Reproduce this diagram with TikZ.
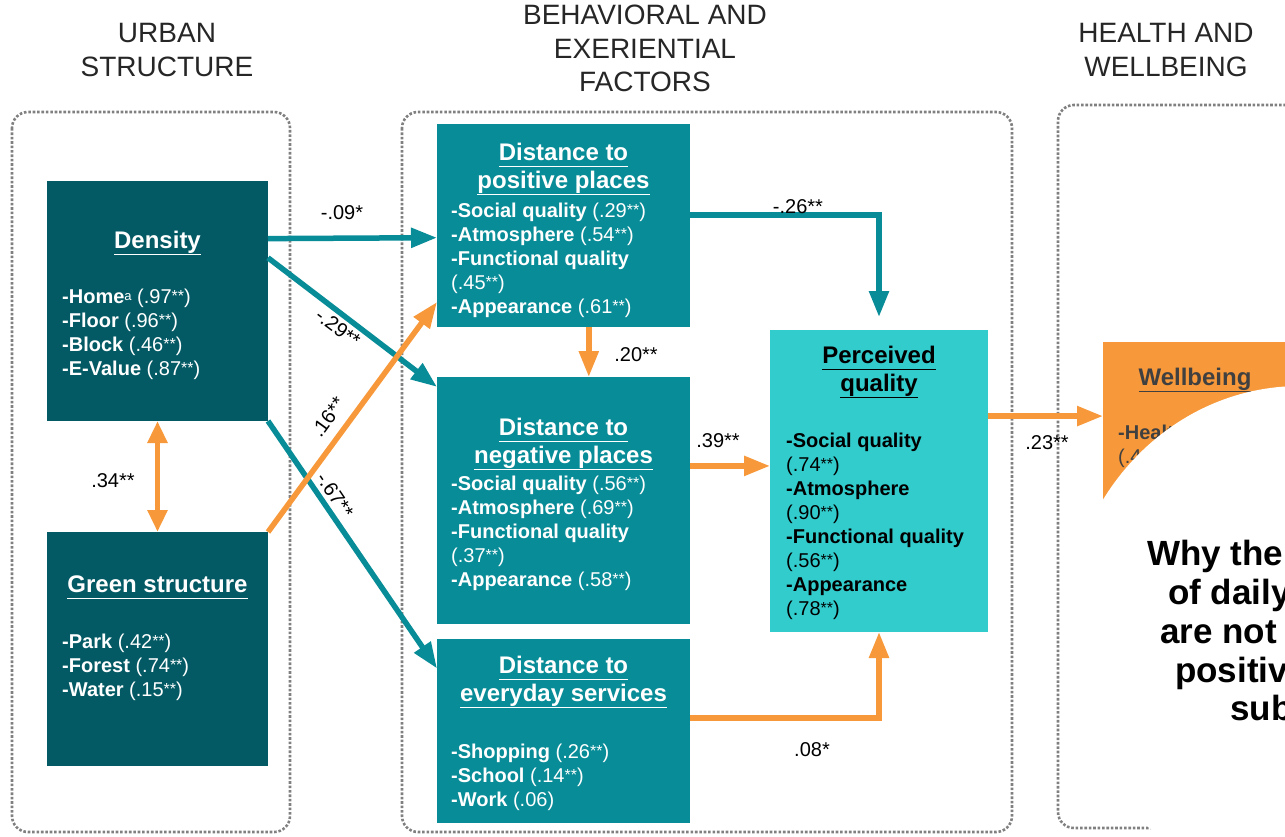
\documentclass[tikz,border=0pt]{standalone}
\usepackage{fontspec}
\setmainfont{Liberation Sans}
\usetikzlibrary{arrows.meta,calc}
\definecolor{dteal}{HTML}{045A64}
\definecolor{mteal}{HTML}{088C97}
\definecolor{lteal}{HTML}{33CCCC}
\definecolor{orng}{HTML}{F7993A}
\definecolor{grp}{HTML}{808080}
\definecolor{wbtext}{HTML}{404040}
\newcommand{\st}[1]{\raisebox{2pt}{\fontsize{16}{16}\selectfont #1}}
\newcommand{\myul}[1]{\leavevmode\vtop{\hbox{\vphantom{p}#1}\kern0.8pt\hrule height1.6pt}}
\begin{document}
\begin{tikzpicture}[x=1pt,y=-1pt,
  bx/.style={rectangle,inner sep=0pt,outer sep=0pt},
  grpbox/.style={draw=grp,line width=2.6pt,dash pattern=on 2.6pt off 1.8pt,rounded corners=16pt},
  tarr/.style={draw=mteal,line width=5.5pt,-{Triangle[length=26pt,width=19pt]}},
  oarr/.style={draw=orng,line width=5.5pt,-{Triangle[length=26pt,width=19pt]}},
  lbl/.style={font=\fontsize{20}{20}\selectfont,inner sep=0pt},
  hdr/.style={font=\fontsize{28}{28}\selectfont,text=black!85,anchor=base,inner sep=0pt},
  ttl/.style={anchor=base,inner sep=0pt,font=\fontsize{24}{28}\selectfont\bfseries},
  itm/.style={anchor=base west,inner sep=0pt,font=\fontsize{20}{24}\selectfont},
  why/.style={anchor=base west,inner sep=0pt,font=\fontsize{35}{39}\selectfont\bfseries}
]
\useasboundingbox (0,0) rectangle (1285,836);

% headers
\node[hdr] (h1a) at (167,42) {URBAN};
\node[hdr] (h1b) at (167,76) {STRUCTURE};
\node[hdr] (h2a) at (645,24) {BEHAVIORAL AND};
\node[hdr] (h2b) at (645,58) {EXERIENTIAL};
\node[hdr] (h2c) at (645,91) {FACTORS};
\node[hdr] (h3a) at (1166,42) {HEALTH AND};
\node[hdr] (h3b) at (1166,76) {WELLBEING};

% group frames
\draw[grpbox] (12,112) rectangle (290,832);
\draw[grpbox] (402,112) rectangle (1012,832);
\draw[grpbox] (1330,105) -- (1058,105) -- (1058,828) -- (1330,828);

% boxes
\node[bx,fill=dteal,minimum width=221pt,minimum height=240pt] (dens) at (157.5,301) {};
\node[bx,fill=dteal,minimum width=221pt,minimum height=234pt] (green) at (157.5,649) {};
\node[bx,fill=mteal,minimum width=253pt,minimum height=203pt] (pos) at (563.5,225.5) {};
\node[bx,fill=mteal,minimum width=253pt,minimum height=247pt] (neg) at (563.5,500.5) {};
\node[bx,fill=mteal,minimum width=253pt,minimum height=184pt] (eve) at (563.5,731) {};
\node[bx,fill=lteal,minimum width=218pt,minimum height=302pt] (pq) at (879,481) {};
\node[bx,fill=orng,minimum width=192pt,minimum height=218pt] (wb) at (1199,451) {};

% box texts
\node[ttl,text=white] (densT) at (157.5,248) {\myul{Density}};
\node[itm,text=white] (densI) at (62,303) {\parbox[t]{200pt}{\raggedright
  \textbf{-Home}\raisebox{3pt}{\fontsize{13}{13}\selectfont a} (.97\st{**})\\
  \textbf{-Floor} (.96\st{**})\\
  \textbf{-Block} (.46\st{**})\\
  \textbf{-E-Value} (.87\st{**})}};

\node[ttl,text=white] (greenT) at (157.5,592) {\myul{Green structure}};
\node[itm,text=white] (greenI) at (62,648) {\parbox[t]{200pt}{\raggedright
  \textbf{-Park} (.42\st{**})\\
  \textbf{-Forest} (.74\st{**})\\
  \textbf{-Water} (.15\st{**})}};

\node[ttl,text=white] (posT) at (563.5,160) {\parbox[t]{250pt}{\centering\myul{Distance to}\\\myul{positive places}}};
\node[itm,text=white] (posI) at (451,217) {\parbox[t]{240pt}{\raggedright
  \textbf{-Social quality} (.29\st{**})\\
  \textbf{-Atmosphere} (.54\st{**})\\
  \textbf{-Functional quality}\\
  (.45\st{**})\\
  \textbf{-Appearance} (.61\st{**})}};

\node[ttl,text=white] (negT) at (563.5,435) {\parbox[t]{250pt}{\centering\myul{Distance to}\\\myul{negative places}}};
\node[itm,text=white] (negI) at (451,490) {\parbox[t]{240pt}{\raggedright
  \textbf{-Social quality} (.56\st{**})\\
  \textbf{-Atmosphere} (.69\st{**})\\
  \textbf{-Functional quality}\\
  (.37\st{**})\\
  \textbf{-Appearance} (.58\st{**})}};

\node[ttl,text=white] (eveT) at (563.5,673) {\parbox[t]{250pt}{\centering\myul{Distance to}\\\myul{everyday services}}};
\node[itm,text=white] (eveI) at (451,758) {\parbox[t]{240pt}{\raggedright
  \textbf{-Shopping} (.26\st{**})\\
  \textbf{-School} (.14\st{**})\\
  \textbf{-Work} (.06)}};

\node[ttl,text=black] (pqT) at (879,363) {\parbox[t]{215pt}{\centering\myul{Perceived}\\\myul{quality}}};
\node[itm,text=black] (pqI) at (786,447) {\parbox[t]{200pt}{\raggedright
  \textbf{-Social quality}\\
  (.74\st{**})\\
  \textbf{-Atmosphere}\\
  (.90\st{**})\\
  \textbf{-Functional quality}\\
  (.56\st{**})\\
  \textbf{-Appearance}\\
  (.78\st{**})}};

\node[ttl,text=wbtext] (wbT) at (1195,385) {\myul{Wellbeing}};
\node[itm,text=wbtext] (wbI) at (1118,439) {\parbox[t]{150pt}{\raggedright
  \textbf{-Health}\\
  (.4}};

% connectors
\draw[tarr] ($(dens.north east)!0.24!(dens.south east)$) -- ($(pos.north west)!0.56!(pos.south west)$);
\draw[tarr] ($(dens.north east)!0.32!(dens.south east)$) -- ($(neg.north west)!0.04!(neg.south west)$);
\draw[tarr] (dens.south east) -- ($(eve.north west)!0.16!(eve.south west)$);
\draw[oarr] (green.north east) -- ($(pos.north west)!0.877!(pos.south west)$);
\draw[draw=orng,line width=5.5pt,{Triangle[length=22pt,width=19pt]}-{Triangle[length=22pt,width=19pt]}] (dens.south) -- (green.north);
\coordinate (a6) at ($(pos.south west)!0.6!(pos.south east)$);
\draw[oarr] (a6) -- (a6 |- neg.north);
\coordinate (a7) at ($(pos.north east)!0.448!(pos.south east)$);
\draw[tarr,shorten >=13pt] (a7) -| (pq.north);
\coordinate (a8) at ($(neg.north east)!0.36!(neg.south east)$);
\draw[oarr] (a8) -- (a8 -| pq.west);
\coordinate (a9) at ($(eve.north east)!0.43!(eve.south east)$);
\draw[oarr] (a9) -| (pq.south);
\coordinate (a10) at ($(pq.north east)!0.285!(pq.south east)$);
\draw[oarr] (a10) -- (a10 -| wb.west);

% connector labels
\node[lbl] (l1) at (342,213) {-.09*};
\node[lbl,rotate=-37] (l2) at (338,328) {-.29**};
\node[lbl,rotate=-56] (l3) at (335,495) {-.67**};
\node[lbl,rotate=54] (l4) at (328,417) {.16**};
\node[lbl] (l5) at (113,481) {.34**};
\node[lbl] (l6) at (636,355) {.20**};
\node[lbl] (l7) at (798,207) {-.26**};
\node[lbl] (l8) at (718,441) {.39**};
\node[lbl] (l9) at (812,750) {.08*};
\node[lbl] (l10) at (1047,443) {.23**};

% white overlay
\fill[white] (1300,636) ellipse[x radius=235pt,y radius=250pt];
\node[why] (w1) at (1147,565) {Why the};
\node[why] (w2) at (1168,604) {of daily};
\node[why] (w3) at (1160,643) {are not};
\node[why] (w4) at (1175,682) {positiv};
\node[why] (w5) at (1230,720) {sub};
\end{tikzpicture}
\end{document}
